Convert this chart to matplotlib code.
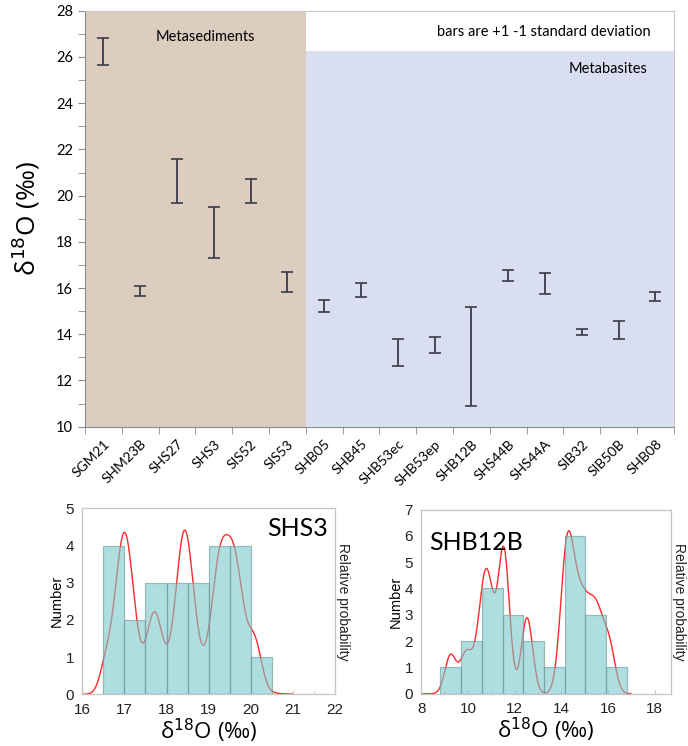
import numpy as np
import matplotlib
matplotlib.use("Agg")
from matplotlib import pyplot as plt
from matplotlib.ticker import MultipleLocator

# oxygen isotope summary per sample (mean and 1 s.d.)
samples = ["SGM21", "SHM23B", "SHS27", "SHS3", "SIS52", "SIS53",
           "SHB05", "SHB45", "SHB53ec", "SHB53ep", "SHB12B", "SHS44B",
           "SHS44A", "SIB32", "SIB50B", "SHB08"]
d18o_mean = [26.25, 15.87, 20.62, 18.40, 20.20, 16.28,
             15.23, 15.93, 13.20, 13.53, 13.03, 16.55,
             16.20, 14.09, 14.18, 15.62]
d18o_sd = [0.58, 0.23, 0.95, 1.10, 0.52, 0.43,
           0.26, 0.31, 0.59, 0.35, 2.13, 0.24,
           0.46, 0.14, 0.38, 0.19]
n_metased = 6
metabasite_top = 26.25

# SHS3 histogram
shs3_edges = [16.5, 17.0, 17.5, 18.0, 18.5, 19.0, 19.5, 20.0, 20.5]
shs3_counts = [4, 2, 3, 3, 3, 4, 4, 1]
# SHS3 probability density components (centre, width, height)
shs3_centres = [16.55, 17.00, 17.71, 18.43, 19.24, 19.60, 20.10, 18.68]
shs3_widths = [0.14, 0.22, 0.18, 0.20, 0.18, 0.22, 0.16, 0.76]
shs3_heights = [0.62, 4.29, 1.88, 3.75, 2.43, 3.33, 1.20, 0.70]
shs3_range = (16.0, 21.0)

# SHB12B histogram
shb12b_edges = [8.82, 9.71, 10.60, 11.48, 12.37, 13.25, 14.14, 15.02, 15.91, 16.80]
shb12b_counts = [1, 2, 4, 3, 2, 1, 6, 3, 1]
shb12b_centres = [9.25, 9.92, 10.78, 11.54, 12.53, 14.24, 14.80, 15.52, 16.10]
shb12b_widths = [0.24, 0.26, 0.32, 0.24, 0.24, 0.28, 0.36, 0.36, 0.24]
shb12b_heights = [1.45, 1.50, 4.72, 5.30, 2.89, 5.05, 3.25, 3.03, 1.22]
shb12b_range = (8.0, 17.0)

bar_color = (0.48, 0.79, 0.80)
edge_color = (0.42, 0.58, 0.60)
spine_grey = "#c4c4c4"


def density(centres, widths, heights, lo, hi):
    x = np.linspace(lo, hi, 600)
    y = np.zeros_like(x)
    for c, w, h in zip(centres, widths, heights):
        y += h * np.exp(-0.5 * ((x - c) / w) ** 2)
    return x, y


def hist_panel(ax, edges, counts, centres, widths, heights, xr,
               xlim, ylim, xmajor, xminor, name, name_pos, name_ha):
    x, y = density(centres, widths, heights, *xr)
    ax.plot(x, y, color="#ff2a2a", lw=1.0, zorder=1)
    edges = np.array(edges)
    ax.bar(edges[:-1], counts, width=np.diff(edges), align="edge",
           color=bar_color, alpha=0.6, edgecolor=edge_color, linewidth=0.9,
           zorder=2)
    ax.set_xlim(*xlim)
    ax.set_ylim(*ylim)
    ax.xaxis.set_major_locator(MultipleLocator(xmajor))
    ax.xaxis.set_minor_locator(MultipleLocator(xminor))
    ax.yaxis.set_major_locator(MultipleLocator(1))
    for s in ax.spines.values():
        s.set_color(spine_grey)
        s.set_linewidth(0.9)
    ax.tick_params(axis="both", which="major", length=0, labelsize=11,
                   colors="#222222", pad=6)
    ax.tick_params(axis="x", which="minor", direction="in", length=2.5,
                   color=spine_grey)
    ax.tick_params(axis="x", which="major", direction="in", length=3,
                   color=spine_grey)
    for lab in ax.get_xticklabels() + ax.get_yticklabels():
        lab.set_family("Liberation Sans")
    ax.set_ylabel("Number", family="Liberation Sans", fontsize=10.5,
                  labelpad=1)
    ax.set_xlabel("δ$^{18}$O (‰)", family="Open Sans", fontsize=16,
                  labelpad=0)
    ax.text(name_pos[0], name_pos[1], name, transform=ax.transAxes,
            ha=name_ha, va="center", fontsize=18, family="Lato")
    twin = ax.twinx()
    twin.set_yticks([])
    for s in twin.spines.values():
        s.set_visible(False)
    twin.set_ylabel("Relative probability", rotation=270,
                    family="Liberation Sans", fontsize=10, labelpad=11,
                    color="#222222")


def main():
    fig = plt.figure(figsize=(6.88, 7.46), dpi=100)

    ax = fig.add_axes([0.1235, 0.428, 0.856, 0.5576])
    pos = np.arange(len(samples))
    ax.axvspan(-0.5, n_metased - 0.5, color="#dccdbf", lw=0, zorder=0)
    ax.fill_between([n_metased - 0.5, len(samples) - 0.5], 10, metabasite_top,
                    color="#d9dff1", lw=0, zorder=0)
    ax.errorbar(pos, d18o_mean, yerr=d18o_sd, fmt="none", ecolor="#3b3b48",
                elinewidth=1.3, capsize=4, capthick=1.2, zorder=3)
    ax.set_xlim(-0.5, len(samples) - 0.5)
    ax.set_ylim(10, 28)
    ax.yaxis.set_major_locator(MultipleLocator(2))
    ax.yaxis.set_minor_locator(MultipleLocator(1))
    ax.set_xticks(pos)
    ax.set_xticklabels(samples, rotation=45, ha="right",
                       rotation_mode="anchor", family="Lato", fontsize=10)
    ax.set_xticks(np.arange(-0.5, len(samples)), minor=True)
    ax.tick_params(axis="x", which="major", length=0, pad=8)
    ax.tick_params(axis="x", which="minor", length=5, color="#8c8c8c")
    ax.tick_params(axis="y", which="both", length=5, color="#8c8c8c",
                   labelsize=10.5)
    for lab in ax.get_yticklabels():
        lab.set_family("Lato")
    for side in ["left", "bottom"]:
        ax.spines[side].set_color("#8c8c8c")
    for side in ["top", "right"]:
        ax.spines[side].set_color("#c8c8c8")
    ax.set_ylabel("δ$^{18}$O (‰)", family="Open Sans", fontsize=19,
                  labelpad=10)
    ax.text(2.76, 26.87, "Metasediments", ha="center", va="center",
            family="Lato", fontsize=10.5)
    ax.text(14.88, 27.06, "bars are +1 -1 standard deviation", ha="right",
            va="center", family="Lato", fontsize=10.5)
    ax.text(14.79, 25.48, "Metabasites", ha="right", va="center",
            family="Lato", fontsize=10.5)

    ax1 = fig.add_axes([0.1196, 0.0693, 0.3674, 0.2493])
    hist_panel(ax1, shs3_edges, shs3_counts, shs3_centres, shs3_widths,
               shs3_heights, shs3_range, (16, 22), (0, 5), 1, 0.5,
               "SHS3", (0.97, 0.89), "right")

    ax2 = fig.add_axes([0.6124, 0.070, 0.3629, 0.247])
    hist_panel(ax2, shb12b_edges, shb12b_counts, shb12b_centres,
               shb12b_widths, shb12b_heights, shb12b_range, (8, 18.7), (0, 7),
               2, 1, "SHB12B", (0.03, 0.82), "left")

    fig.savefig("out.png", dpi=100)


if __name__ == "__main__":
    main()
